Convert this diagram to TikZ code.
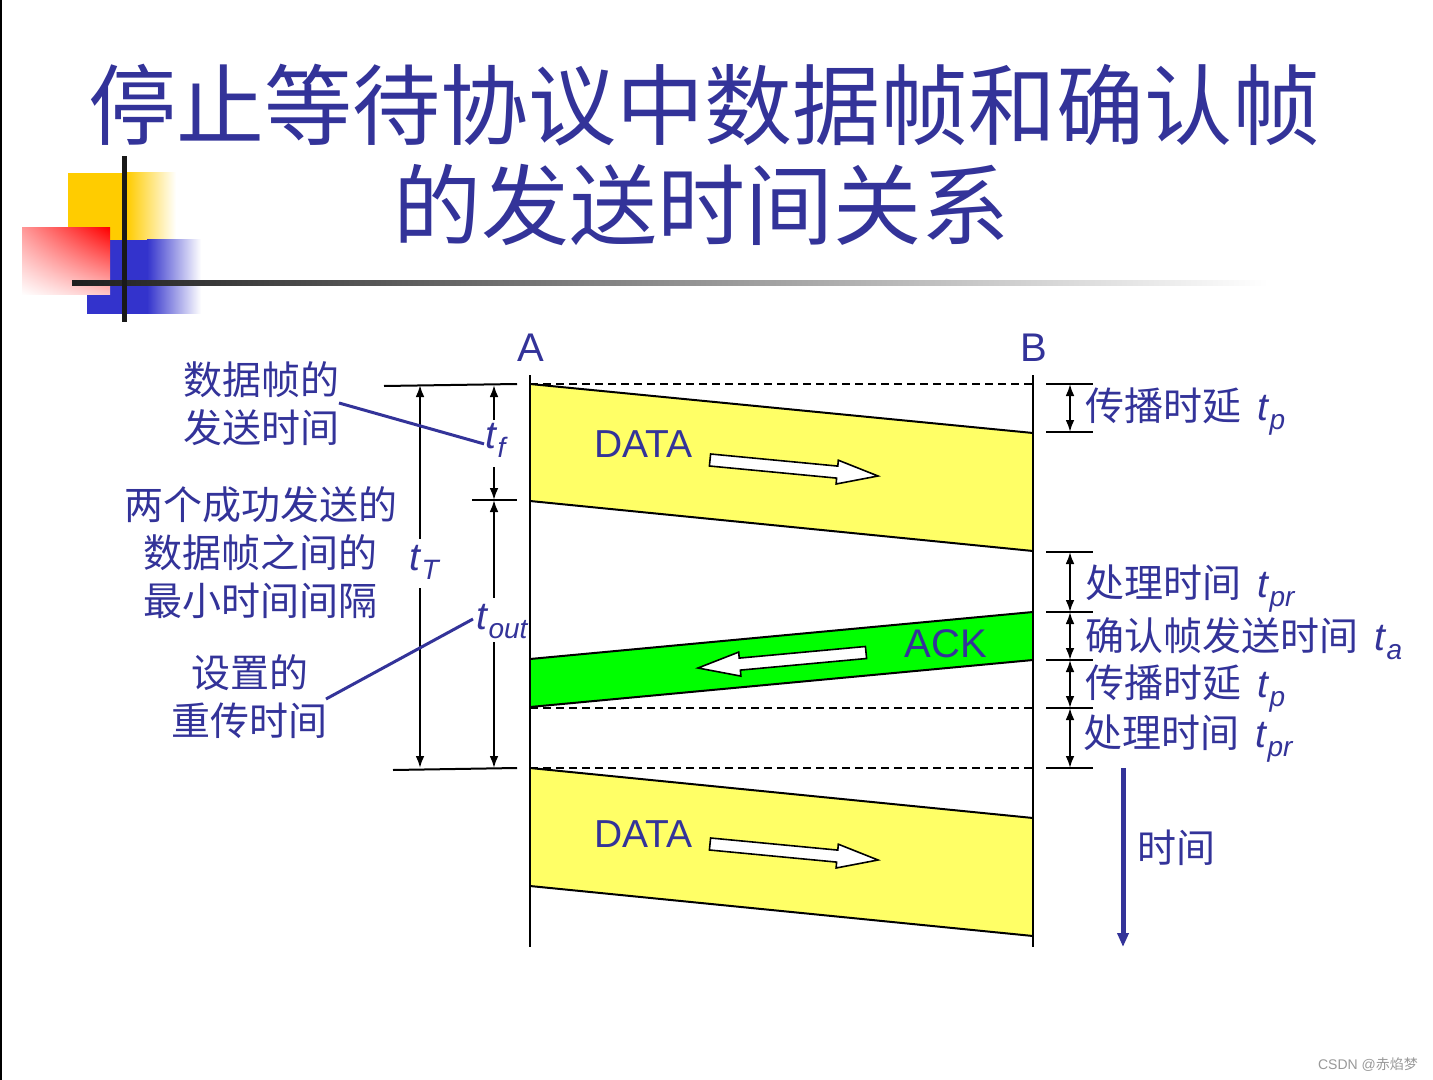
\documentclass[tikz,border=0pt]{standalone}
\usepackage{fontspec}
\setmainfont{Liberation Sans}
\newfontfamily\cjk{Noto Sans CJK SC}
\usetikzlibrary{arrows.meta,calc,shadings}
\definecolor{tblue}{HTML}{333399}
\definecolor{fyel}{HTML}{FFFF66}
\definecolor{fgrn}{HTML}{00FF00}
\definecolor{lgold}{HTML}{FFCC00}
\definecolor{lblue}{HTML}{3333CC}
\newcommand{\tsb}[1]{\textit{t}\raisebox{-4.5pt}{\fontsize{14}{14}\selectfont\textit{#1}}}
\tikzset{
  ttl/.style={text=tblue, inner sep=0pt, anchor=base, font=\cjk\fontsize{44}{50}\selectfont},
  lbl/.style={text=tblue, inner sep=0pt, anchor=base, font=\cjk\fontsize{19.5}{24}\selectfont},
  rlbl/.style={text=tblue, inner sep=0pt, anchor=base west, font=\fontsize{19.5}{24}\selectfont},
  tlbl/.style={text=tblue, inner sep=0pt, anchor=base west, font=\fontsize{19.5}{24}\selectfont},
  frm/.style={text=tblue, inner sep=0pt, anchor=base, font=\fontsize{19.5}{24}\selectfont},
  edge/.style={draw=black, line width=1pt},
  tickline/.style={draw=black, line width=1pt},
  dashline/.style={draw=black, line width=1pt, dash pattern=on 4pt off 2.5pt},
  dimline/.style={draw=black, line width=1pt},
  blockarrow/.style={draw=black, fill=white, line width=0.8pt, line join=miter},
  pointer/.style={draw=tblue, line width=1.5pt},
  >={Latex[length=6pt,width=4.4pt]}
}
\begin{document}
\begin{tikzpicture}[x=0.5pt,y=-0.5pt]
\fill[white] (0,0) rectangle (1433,1080);
\useasboundingbox (0,0) rectangle (1433,1080);
% left edge
\fill[black] (0,0) rectangle (2,1080);
% logo
\fill[lgold] (68,173) rectangle (127,240);
\shade[left color=lgold, right color=white] (127,173) rectangle (176,240);
\fill[lblue] (87,240) rectangle (147,314);
\shade[left color=lblue, right color=white] (147,240) rectangle (201,314);
\shade[upper left=red!40, upper right=red, lower left=white, lower right=red!22] (22,228) rectangle (110,295);
\shade[left color=black!88, right color=white] (72,281) rectangle (1268,286);
\fill[black!90] (122,156) rectangle (127,322);
% title
\node[ttl] (t1) at (704,139) {停止等待协议中数据帧和确认帧};
\node[ttl] (t2) at (701.5,239) {的发送时间关系};

% bands
\fill[fyel] (530,384) -- (1033,433) -- (1033,551) -- (530,501) -- cycle;
\draw[edge] (530,384) -- (1033,433);
\draw[edge] (530,501) -- (1033,551);
\fill[fgrn] (530,659) -- (1033,612) -- (1033,660) -- (530,707) -- cycle;
\draw[edge] (530,659) -- (1033,612);
\draw[edge] (530,707) -- (1033,660);
\fill[fyel] (530,768) -- (1033,818) -- (1033,936) -- (530,886) -- cycle;
\draw[edge] (530,768) -- (1033,818);
\draw[edge] (530,886) -- (1033,936);

% dashed lines
\coordinate (d1a) at (530,384); \coordinate (d1b) at (1033,384);
\coordinate (d2a) at (530,708); \coordinate (d2b) at (1033,708);
\coordinate (d3a) at (530,768); \coordinate (d3b) at (1033,768);
\draw[dashline] (d1a) -- (d1b);
\draw[dashline] (d2a) -- (d2b);
\draw[dashline] (d3a) -- (d3b);

% station lines
\coordinate (Atop) at (530,375); \coordinate (Abot) at (530,947);
\coordinate (Btop) at (1033,375); \coordinate (Bbot) at (1033,947);
\draw[edge] (Atop) -- (Abot);
\draw[edge] (Btop) -- (Bbot);
\node[frm, font=\fontsize{20}{24}\selectfont] (A) at (530.5,361) {A};
\node[frm, font=\fontsize{20}{24}\selectfont] (B) at (1033.5,361) {B};

% frame labels
\node[frm] (data1) at (643.5,457) {DATA};
\node[frm] (data2) at (643.5,847) {DATA};
\node[frm, font=\fontsize{20}{24}\selectfont] (ack) at (946,657) {ACK};

% block arrows
\draw[blockarrow] (710.6,454.0) -- (837.8,466.1) -- (838.3,460.2) -- (878,476) -- (836.1,484.0) -- (836.6,478.1) -- (709.4,466.0) -- cycle;
\draw[blockarrow] (710.6,838.0) -- (837.8,850.1) -- (838.3,844.2) -- (878,860) -- (836.1,868.0) -- (836.6,862.1) -- (709.4,850.0) -- cycle;
\draw[blockarrow] (865.4,646.5) -- (739.2,658.1) -- (738.7,652.1) -- (698,668) -- (740.9,676.1) -- (740.4,670.1) -- (866.6,658.5) -- cycle;

% left ticks
\coordinate (lt1a) at (384,386); \coordinate (lt1b) at (517,384);
\coordinate (lt2a) at (472,500); \coordinate (lt2b) at (517,500);
\coordinate (lt3a) at (393,770); \coordinate (lt3b) at (517,768);
\draw[tickline] (lt1a) -- (lt1b);
\draw[tickline] (lt2a) -- (lt2b);
\draw[tickline] (lt3a) -- (lt3b);

% t labels
\node[tlbl] (tT) at (409,570) {\tsb{T}};
\node[tlbl] (tf) at (485,448) {\tsb{f}};
\node[tlbl] (tout) at (476,629) {\tsb{out}};

% dimension arrows left
\coordinate (tT1) at (420,385); \coordinate (tT2) at (420,539);
\coordinate (tT3) at (420,588); \coordinate (tT4) at (420,768);
\draw[dimline,<-] (tT1) -- (tT2);
\draw[dimline,->] (tT3) -- (tT4);
\coordinate (tf1) at (494,385); \coordinate (tf2) at (494,420);
\coordinate (tf3) at (494,467); \coordinate (tf4) at (494,500);
\draw[dimline,<-] (tf1) -- (tf2);
\draw[dimline,->] (tf3) -- (tf4);
\coordinate (to1) at (494,500); \coordinate (to2) at (494,598);
\coordinate (to3) at (494,642); \coordinate (to4) at (494,768);
\draw[dimline,<-] (to1) -- (to2);
\draw[dimline,->] (to3) -- (to4);

% left labels
\node[lbl] (l1a) at (261,394.5) {数据帧的};
\node[lbl] (l1b) at (261,442.5) {发送时间};
\node[lbl] (l2a) at (260.5,519.5) {两个成功发送的};
\node[lbl] (l2b) at (260.5,567.5) {数据帧之间的};
\node[lbl] (l2c) at (260.5,615.5) {最小时间间隔};
\node[lbl] (l3a) at (249.5,687.5) {设置的};
\node[lbl] (l3b) at (249.5,735.5) {重传时间};
\coordinate (p1) at (339,403);
\coordinate (p2) at (326,699);
\draw[pointer] (p1) -- ([xshift=-0.5pt,yshift=-2pt]tf.west);
\draw[pointer] (p2) -- ([xshift=-1.5pt,yshift=1pt]tout.west);

% right ticks
\foreach \yy [count=\i] in {384,432,552,612,660,708,768}{
  \coordinate (rtA\i) at (1046,\yy);
  \coordinate (rtB\i) at (1093,\yy);
  \coordinate (rtM\i) at (1070,\yy);
  \draw[tickline] (rtA\i) -- (rtB\i);
}
\draw[dimline,<->] (rtM1) -- (rtM2);
\draw[dimline,<->] (rtM3) -- (rtM4);
\draw[dimline,<->] (rtM4) -- (rtM5);
\draw[dimline,<->] (rtM5) -- (rtM6);
\draw[dimline,<->] (rtM6) -- (rtM7);

% right labels
\node[rlbl] (r1) at (1085,420.5) {{\cjk 传播时延}\hspace{8pt}\tsb{p}};
\node[rlbl] (r2) at (1085,597.5) {{\cjk 处理时间}\hspace{8pt}\tsb{pr}};
\node[rlbl] (r3) at (1085,650.5) {{\cjk 确认帧发送时间}\hspace{8pt}\tsb{a}};
\node[rlbl] (r4) at (1085,697.5) {{\cjk 传播时延}\hspace{8pt}\tsb{p}};
\node[rlbl] (r5) at (1083,747.5) {{\cjk 处理时间}\hspace{8pt}\tsb{pr}};

% time arrow
\coordinate (ta1) at (1123,768); \coordinate (ta2) at (1123,947);
\draw[draw=tblue, line width=2.5pt, -{Triangle[length=7pt,width=5.5pt]}] (ta1) -- (ta2);
\node[lbl] (time) at (1176,862.5) {时间};

% watermark
\node[inner sep=0pt, anchor=base, text=black!40, font=\fontsize{7}{8}\selectfont] (wm) at (1368,1069) {CSDN @{\cjk 赤焰梦}};
\end{tikzpicture}
\end{document}
